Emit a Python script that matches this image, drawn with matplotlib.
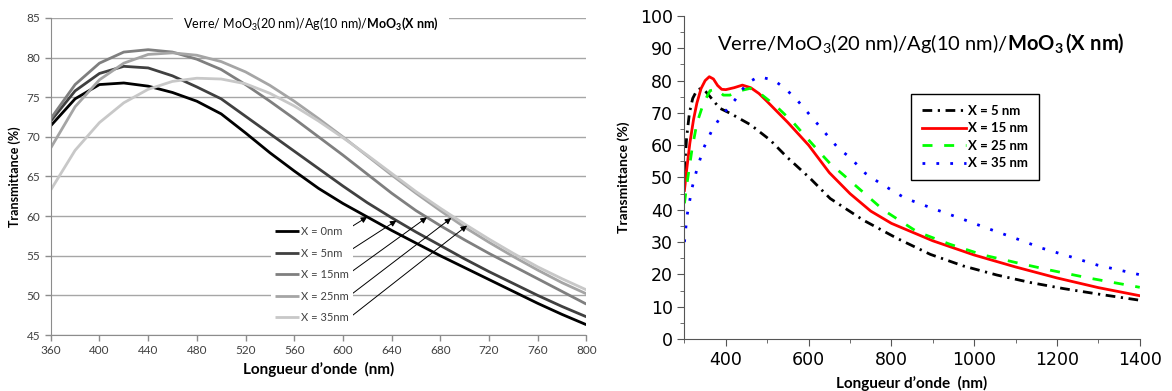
import numpy as np
import matplotlib as mpl
import matplotlib.pyplot as plt

# fonts: Lato stands in for the Calibri-like text of the original
mpl.rcParams['font.family'] = ['Lato', 'DejaVu Sans']
mpl.rcParams['mathtext.fontset'] = 'custom'
mpl.rcParams['mathtext.rm'] = 'Lato'
mpl.rcParams['mathtext.bf'] = 'Lato:bold'
mpl.rcParams['mathtext.it'] = 'Lato:italic'

################################ left panel data (simulation) ################################
wl_sim = [360, 380, 400, 420, 440, 460, 480, 500, 520, 540, 560, 580,
          600, 620, 640, 660, 680, 700, 720, 740, 760, 780, 800]
T_0nm = [71.4, 74.8, 76.6, 76.8, 76.4, 75.6, 74.5, 72.9, 70.5, 68.0, 65.7, 63.5,
         61.6, 59.9, 58.2, 56.6, 55.0, 53.5, 52.0, 50.5, 49.0, 47.6, 46.3]
T_5nm = [72.0, 75.8, 78.0, 78.9, 78.7, 77.7, 76.3, 74.8, 72.6, 70.4, 68.2, 66.0,
         63.8, 61.7, 59.8, 58.0, 56.3, 54.6, 53.0, 51.5, 50.0, 48.6, 47.3]
T_15nm = [72.3, 76.6, 79.3, 80.7, 81.0, 80.7, 79.8, 78.5, 76.6, 74.5, 72.3, 70.0,
          67.7, 65.3, 62.9, 60.7, 58.8, 57.0, 55.3, 53.7, 52.1, 50.5, 48.9]
T_25nm = [68.6, 73.8, 77.2, 79.3, 80.4, 80.6, 80.3, 79.5, 78.2, 76.5, 74.5, 72.3,
          70.0, 67.6, 65.2, 62.9, 60.7, 58.6, 56.7, 54.9, 53.2, 51.6, 50.2]
T_35nm = [63.3, 68.3, 71.8, 74.3, 76.0, 77.0, 77.4, 77.3, 76.7, 75.5, 73.9, 72.0,
          69.9, 67.7, 65.4, 63.1, 61.0, 59.0, 57.1, 55.3, 53.6, 52.1, 50.7]
sim_labels = ['X = 0nm', 'X = 5nm', 'X = 15nm', 'X = 25nm', 'X = 35nm']
sim_colors = ['#000000', '#404040', '#7f7f7f', '#a5a5a5', '#c8c8c8']
arrow_wl = [620, 644, 669, 689, 702]   # where each legend arrow hits its curve

################################ right panel data (measured) ################################
wl_5 = [300, 305, 312, 320, 330, 340, 350, 362, 375, 386, 410, 460, 507, 547, 604,
        652, 732, 813, 894, 974, 1055, 1135, 1216, 1305, 1400]
T_5 = [52, 62, 70, 74.5, 77, 77.6, 76.8, 75, 73, 71.4, 69.9, 66.3, 61.6, 56.4, 49.7,
       43.5, 36.8, 31.2, 26.2, 22.6, 19.8, 17.5, 15.6, 13.8, 12.0]
wl_15 = [300, 305, 313, 322, 330, 340, 350, 360, 370, 380, 390, 400, 420, 440, 460,
         480, 500, 550, 600, 650, 700, 750, 800, 900, 1000, 1100, 1200, 1300, 1400]
T_15 = [46, 52, 60.6, 68, 73, 77.5, 80, 81.2, 80.5, 78.5, 77.3, 77.2, 77.8, 78.6, 77.8,
        76, 73.5, 67, 60.0, 51.5, 45.0, 39.6, 35.8, 30.4, 26, 22.3, 18.9, 15.9, 13.4]
wl_25 = [300, 306, 318, 330, 346, 362, 378, 394, 410, 426, 459, 483, 523, 563, 596,
         636, 652, 684, 700, 781, 862, 942, 1022, 1103, 1184, 1280, 1400]
T_25 = [42, 48, 58.5, 66.8, 73, 76.9, 77.3, 75.5, 75.5, 76.6, 77.6, 76, 71.9, 67.0, 62.2,
        56.5, 54.3, 50.8, 49.0, 39.9, 33.2, 29.3, 26, 23.6, 21.3, 18.8, 16.0]
wl_35 = [300, 306, 318, 330, 346, 366, 386, 422, 451, 479, 515, 543, 572, 596, 620,
         644, 672, 700, 737, 773, 833, 898, 966, 1031, 1099, 1164, 1232, 1297, 1400]
T_35 = [30, 38, 46.6, 52.5, 59, 64.5, 68.5, 74, 79.2, 81.2, 80.2, 77.6, 74, 70.4, 66.8,
        63.2, 59, 56.2, 51.3, 48.2, 43.6, 40.5, 37.4, 34.3, 31.2, 28.1, 25.5, 22.9, 19.9]

fig = plt.figure(figsize=(11.72, 3.91), dpi=100)

##################################### LEFT #####################################
ax1 = fig.add_axes([0.0433, 0.1432, 0.4570, 0.8108])
for T, c, lab in zip([T_0nm, T_5nm, T_15nm, T_25nm, T_35nm], sim_colors, sim_labels):
    ax1.plot(wl_sim, T, color=c, lw=2.0, label=lab, solid_capstyle='butt')

ax1.set_xlim(360, 800)
ax1.set_ylim(45, 85)
ax1.set_xticks(np.arange(360, 801, 40))
ax1.set_yticks(np.arange(45, 86, 5))
ax1.yaxis.grid(True, color='#a6a6a6', lw=1.0)
ax1.set_axisbelow(True)
for s in ['top', 'right']:
    ax1.spines[s].set_visible(False)
for s in ['left', 'bottom']:
    ax1.spines[s].set_color('#8c8c8c')
ax1.tick_params(colors='#8c8c8c', labelcolor='#404040', labelsize=8.5, length=4, width=1)
ax1.set_xlabel("Longueur d\u2019onde  (nm)", fontsize=11, fontweight='bold', labelpad=4)
ax1.set_ylabel("Transmittance (%)", fontsize=9, fontweight='bold', labelpad=4)

ax1.text(0.486, 0.981, r"Verre/ MoO$_3$(20 nm)/Ag(10 nm)/$\mathbf{MoO_3(X\ nm)}$",
         transform=ax1.transAxes, ha='center', va='center', fontsize=9,
         bbox=dict(facecolor='white', edgecolor='none', boxstyle='square,pad=0.8'))

leg1 = ax1.legend(loc='upper left', bbox_to_anchor=(0.40, 0.375), fontsize=8,
                  frameon=True, framealpha=1, edgecolor='none', fancybox=False,
                  handlelength=2.2, handletextpad=0.1, labelspacing=0.95, borderpad=0.4)
for t in leg1.get_texts():
    t.set_color('#404040')

tail_y = [0.342, 0.270, 0.200, 0.129, 0.060]
for nm, T, ty in zip(arrow_wl, [T_0nm, T_5nm, T_15nm, T_25nm, T_35nm], tail_y):
    ax1.annotate('', xy=(nm, np.interp(nm, wl_sim, T)), xycoords='data',
                 xytext=(0.562, ty), textcoords='axes fraction',
                 arrowprops=dict(arrowstyle='-|>', color='black', lw=0.7,
                                 mutation_scale=9, shrinkA=0, shrinkB=0))

##################################### RIGHT #####################################
ax2 = fig.add_axes([0.5840, 0.1330, 0.3885, 0.8261])
ax2.plot(wl_5, T_5, color='black', lw=2.0, dashes=(3.5, 2, 0.8, 2), label='X = 5 nm')
ax2.plot(wl_15, T_15, color='#ff0000', lw=2.0, label='X = 15 nm')
ax2.plot(wl_25, T_25, color='#00ff00', lw=2.0, dashes=(3.6, 4.2), label='X = 25 nm')
ax2.plot(wl_35, T_35, color='#0000ff', lw=2.0, dashes=(1, 4), label='X = 35 nm')

ax2.set_xlim(300, 1400)
ax2.set_ylim(0, 100)
ax2.set_xticks(np.arange(400, 1401, 200))
ax2.set_xticks(np.arange(300, 1401, 100), minor=True)
ax2.set_yticks(np.arange(0, 101, 10))
ax2.set_yticks(np.arange(0, 101, 5), minor=True)
for s in ['top', 'right']:
    ax2.spines[s].set_visible(False)
for s in ['left', 'bottom']:
    ax2.spines[s].set_color('#555555')
ax2.tick_params(which='both', colors='#555555', labelcolor='black')
ax2.tick_params(which='major', length=5, labelsize=12.5)
ax2.tick_params(which='minor', length=3)
for lab in ax2.get_xticklabels() + ax2.get_yticklabels():
    lab.set_family('DejaVu Sans')
ax2.set_xlabel("Longueur d\u2019onde  (nm)", fontsize=11, fontweight='bold', labelpad=5)
ax2.set_ylabel("Transmittance (%)", fontsize=10, fontweight='bold', labelpad=7)

ax2.text(0.5186, 0.916, r"Verre/MoO$_3$(20 nm)/Ag(10 nm)/$\mathbf{MoO_3\,(X\ nm)}$",
         transform=ax2.transAxes, ha='center', va='center', fontsize=14.5)

leg2 = ax2.legend(loc='upper left', bbox_to_anchor=(0.484, 0.778), fancybox=False,
                  edgecolor='black', framealpha=1, handlelength=3.3, handletextpad=0.2,
                  labelspacing=0.42, borderpad=0.8, prop={'weight': 'bold', 'size': 9.5})
leg2.get_frame().set_linewidth(1.0)

plt.savefig('out.png', dpi=100)
